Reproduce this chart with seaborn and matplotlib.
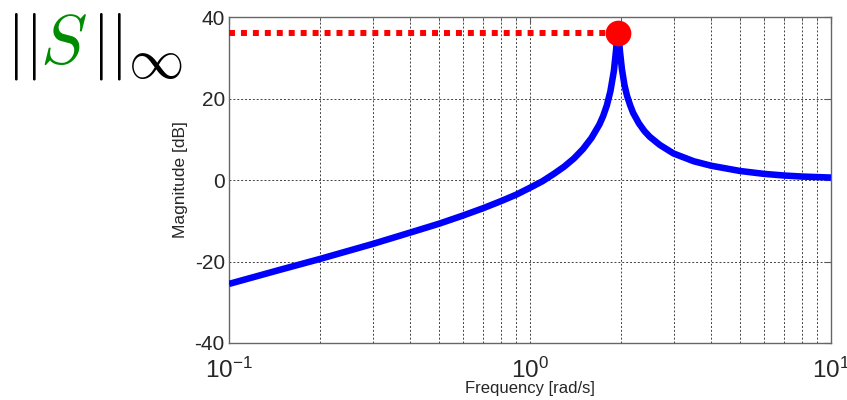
import matplotlib
matplotlib.use("Agg")
import matplotlib.pyplot as plt
import seaborn as sns
import pandas as pd
from matplotlib.ticker import FixedLocator, NullFormatter

# ---- data ----
freq = [0.1, 0.15, 0.2, 0.3, 0.4, 0.5, 0.6, 0.7, 0.8, 0.9, 1.0, 1.1, 1.2, 1.3,
        1.4, 1.5, 1.6, 1.7, 1.75, 1.8, 1.85, 1.9, 1.93, 1.95, 1.96, 1.97, 1.99,
        2.02, 2.06, 2.1, 2.15, 2.2, 2.3, 2.4, 2.5, 2.7, 3.0, 3.5, 4.0, 5.0, 6.0,
        7.0, 8.0, 10.0]
mag_db = [-25.5, -21.9, -19.4, -15.7, -12.9, -10.7, -8.7, -6.9, -5.2, -3.6,
          -1.9, -0.3, 1.5, 3.3, 5.3, 7.6, 10.3, 13.6, 15.7, 18.3, 21.8, 26.8,
          31.6, 35.3, 36.0, 35.3, 31.6, 27.2, 23.3, 20.7, 18.4, 16.5, 13.9, 12.0,
          10.6, 8.6, 6.5, 4.6, 3.5, 2.2, 1.5, 1.1, 0.85, 0.6]
peak_freq = [1.96]
peak_db = [36.0]
hinf_freq = [0.1, 1.96]
hinf_db = [36.0, 36.0]
x_ticks = [0.1, 1, 10]
x_ticklabels = [r"$\mathregular{10^{-1}}$", r"$\mathregular{10^{0}}$", r"$\mathregular{10^{1}}$"]
y_ticks = [-40, -20, 0, 20, 40]
y_ticklabels = ["-40", "-20", "0", "20", "40"]

sns.set_style("white")
plt.rcParams["font.family"] = ["Liberation Sans", "DejaVu Sans"]
plt.rcParams["mathtext.fontset"] = "custom"
plt.rcParams["mathtext.rm"] = "Liberation Sans"
plt.rcParams["mathtext.it"] = "Liberation Sans:italic"
plt.rcParams["mathtext.bf"] = "Liberation Sans:bold"

fig = plt.figure(figsize=(8.47, 4.0), dpi=100)
ax = fig.add_axes([229 / 847, 1 - 343 / 400, (831 - 229) / 847, (343 - 17) / 400])

curve = pd.DataFrame({"freq": freq, "mag": mag_db})
hinf = pd.DataFrame({"freq": hinf_freq, "mag": hinf_db})
peak = pd.DataFrame({"freq": peak_freq, "mag": peak_db})

sns.lineplot(data=curve, x="freq", y="mag", ax=ax, color=(0, 0, 1), linewidth=4.7,
             zorder=3, solid_joinstyle="round", solid_capstyle="butt")
sns.lineplot(data=hinf, x="freq", y="mag", ax=ax, color=(1, 0, 0), linewidth=4.3,
             dashes=False, zorder=3)
ax.lines[-1].set_dashes((1, 1))
ax.lines[-1].set_dash_capstyle("butt")
sns.scatterplot(data=peak, x="freq", y="mag", ax=ax, color=(1, 0, 0), s=18.5 ** 2,
                linewidth=0, zorder=4)

ax.set_xscale("log")
ax.set_xlim(0.1, 10)
ax.set_ylim(-40, 40)
ax.set_xticks(x_ticks)
ax.set_xticklabels(x_ticklabels, fontsize=17.5)
ax.xaxis.set_minor_locator(FixedLocator([m * d for d in (0.1, 1) for m in range(2, 10)]))
ax.xaxis.set_minor_formatter(NullFormatter())
ax.set_yticks(y_ticks)
ax.set_yticklabels(y_ticklabels, fontsize=15)

ax.grid(True, which="both", axis="x", color="0.25", linestyle=(0, (2, 2)), linewidth=0.7)
ax.grid(True, which="major", axis="y", color="0.25", linestyle=(0, (2, 2)), linewidth=0.7)
ax.set_axisbelow(True)

ax.tick_params(which="both", direction="in", top=True, right=True, color="0.35")
ax.tick_params(which="major", length=5, width=0.8)
ax.tick_params(which="minor", length=3, width=0.6)
ax.tick_params(axis="x", which="major", pad=10.5)
ax.tick_params(axis="y", which="major", pad=3)
for s in ax.spines.values():
    s.set_color("0.4")
    s.set_linewidth(1.0)

ax.set_xlabel("Frequency [rad/s]", fontsize=12, labelpad=-1)
ax.set_ylabel("Magnitude [dB]", fontsize=12.5, labelpad=5)

# ||S||_inf annotation
fig.text(6 / 847, 1 - 64 / 400, r"$||$", fontsize=48, math_fontfamily="cm",
         color="black", va="baseline", ha="left")
fig.text(40 / 847, 1 - 63 / 400, r"$S$", fontsize=50, math_fontfamily="cm",
         color=(0, 0.55, 0), va="baseline", ha="left")
fig.text(91 / 847, 1 - 64 / 400, r"$||$", fontsize=48, math_fontfamily="cm",
         color="black", va="baseline", ha="left")
fig.text(128 / 847, 1 - 78 / 400, r"$\infty$", fontsize=40, math_fontfamily="cm",
         color="black", va="baseline", ha="left")

fig.savefig("out.png", dpi=100)
